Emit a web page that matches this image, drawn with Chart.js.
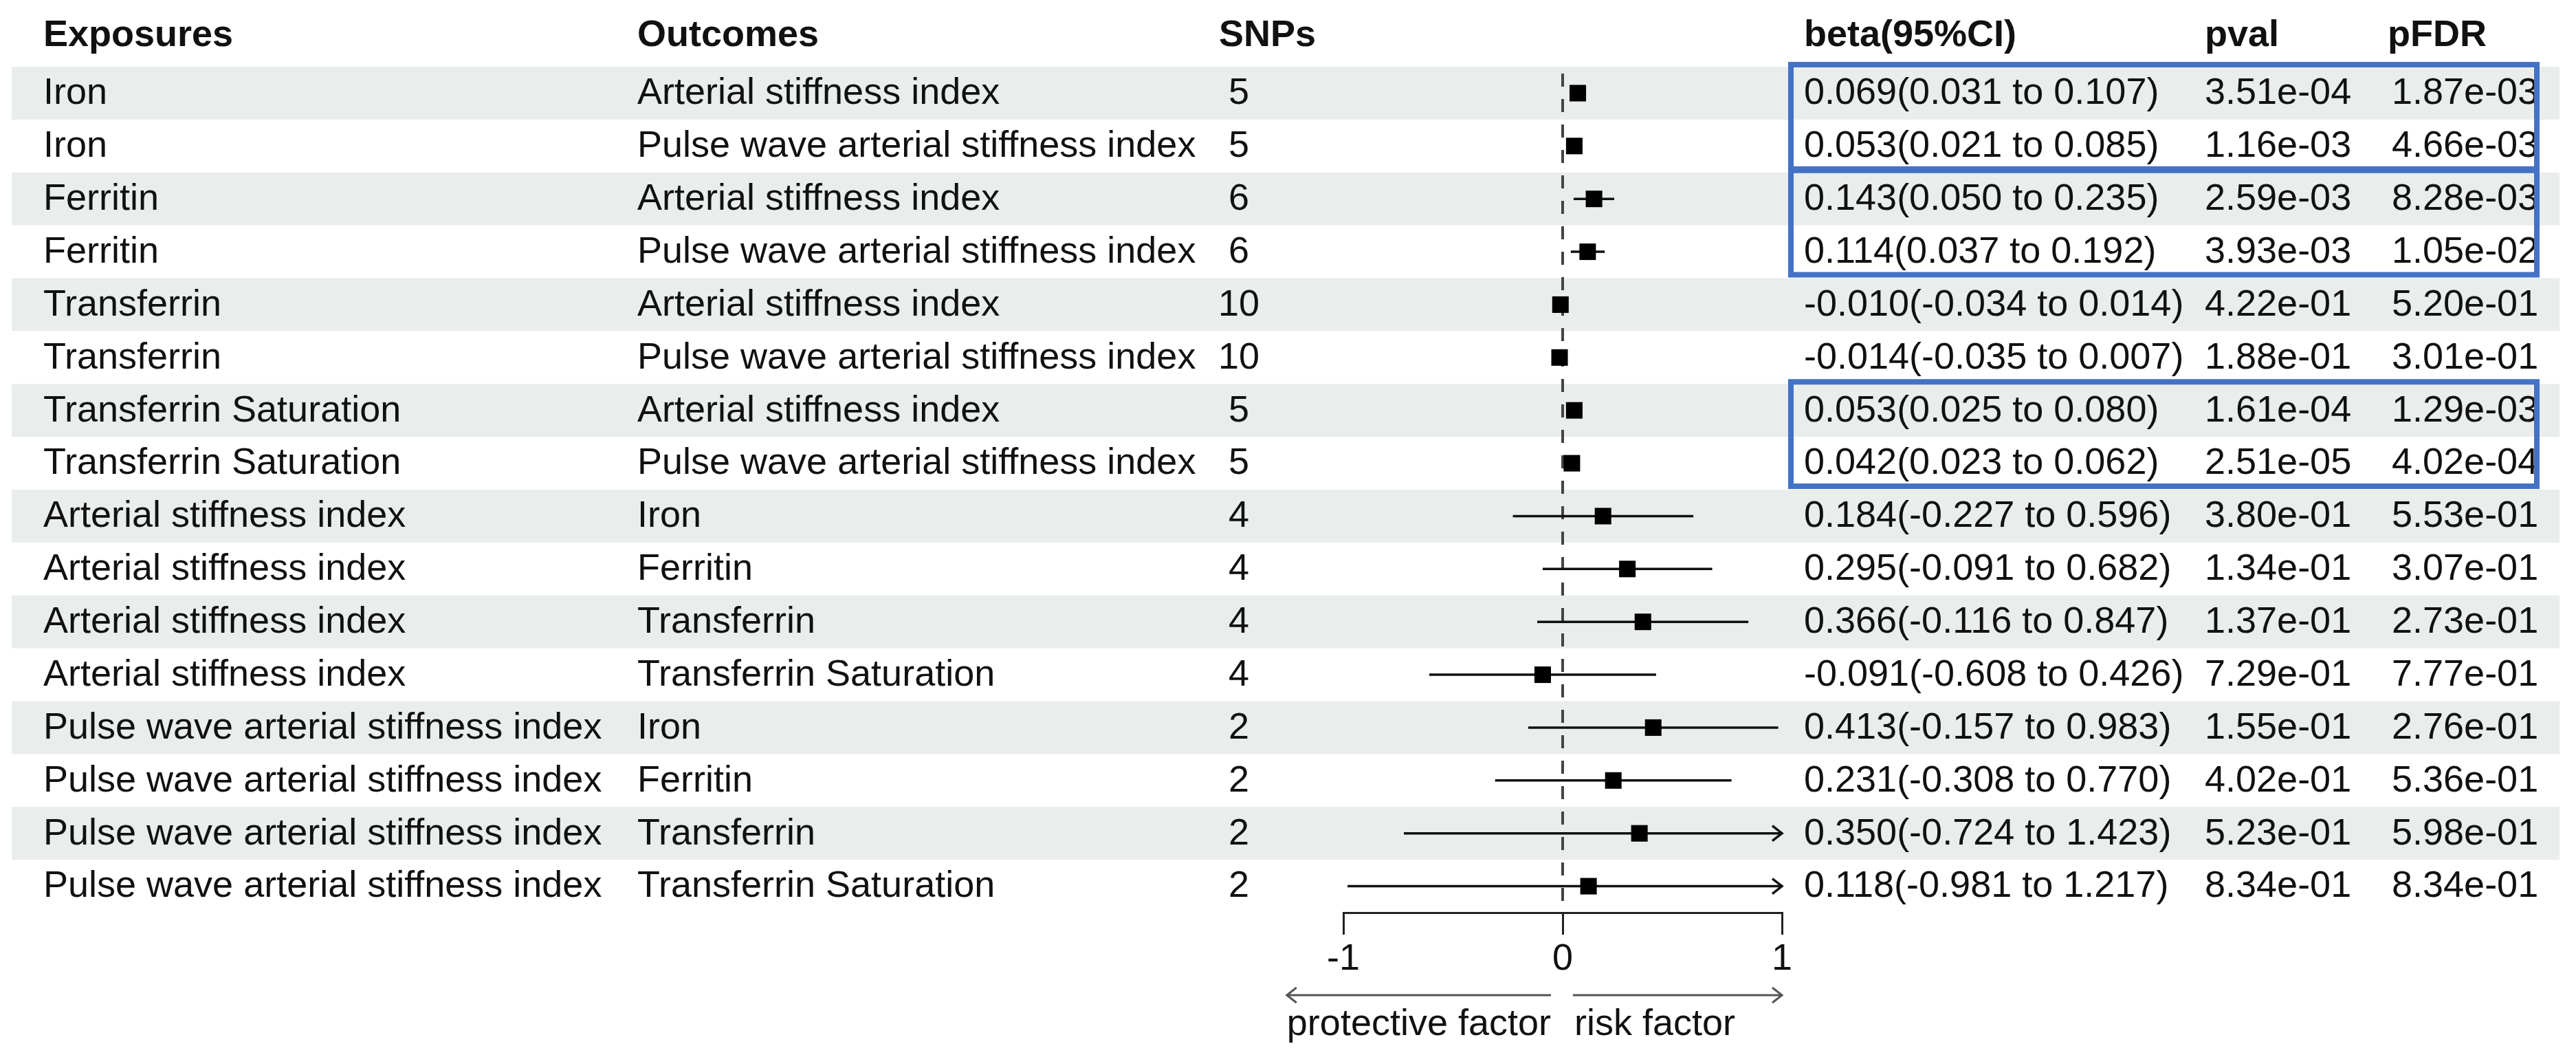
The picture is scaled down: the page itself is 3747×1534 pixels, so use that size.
<!DOCTYPE html>
<html>
<head>
<meta charset="utf-8">
<script src="https://cdn.jsdelivr.net/npm/chart.js@4/dist/chart.umd.min.js"></script>
<style>
  html, body { margin: 0; padding: 0; background: #fff; }
  #wrap { width: 3747px; height: 1534px; position: relative; }
</style>
</head>
<body>
<div id="wrap"><canvas id="forest"></canvas></div>
<script>
var exposures = ["Iron", "Iron", "Ferritin", "Ferritin", "Transferrin", "Transferrin",
  "Transferrin Saturation", "Transferrin Saturation",
  "Arterial stiffness index", "Arterial stiffness index", "Arterial stiffness index", "Arterial stiffness index",
  "Pulse wave arterial stiffness index", "Pulse wave arterial stiffness index",
  "Pulse wave arterial stiffness index", "Pulse wave arterial stiffness index"];
var outcomes = ["Arterial stiffness index", "Pulse wave arterial stiffness index",
  "Arterial stiffness index", "Pulse wave arterial stiffness index",
  "Arterial stiffness index", "Pulse wave arterial stiffness index",
  "Arterial stiffness index", "Pulse wave arterial stiffness index",
  "Iron", "Ferritin", "Transferrin", "Transferrin Saturation",
  "Iron", "Ferritin", "Transferrin", "Transferrin Saturation"];
var snps = [5, 5, 6, 6, 10, 10, 5, 5, 4, 4, 4, 4, 2, 2, 2, 2];
var beta = [0.069, 0.053, 0.143, 0.114, -0.010, -0.014, 0.053, 0.042,
  0.184, 0.295, 0.366, -0.091, 0.413, 0.231, 0.350, 0.118];
var lower = [0.031, 0.021, 0.050, 0.037, -0.034, -0.035, 0.025, 0.023,
  -0.227, -0.091, -0.116, -0.608, -0.157, -0.308, -0.724, -0.981];
var upper = [0.107, 0.085, 0.235, 0.192, 0.014, 0.007, 0.080, 0.062,
  0.596, 0.682, 0.847, 0.426, 0.983, 0.770, 1.423, 1.217];
var pval = ["3.51e-04", "1.16e-03", "2.59e-03", "3.93e-03", "4.22e-01", "1.88e-01", "1.61e-04", "2.51e-05",
  "3.80e-01", "1.34e-01", "1.37e-01", "7.29e-01", "1.55e-01", "4.02e-01", "5.23e-01", "8.34e-01"];
var pfdr = ["1.87e-03", "4.66e-03", "8.28e-03", "1.05e-02", "5.20e-01", "3.01e-01", "1.29e-03", "4.02e-04",
  "5.53e-01", "3.07e-01", "2.73e-01", "7.77e-01", "2.76e-01", "5.36e-01", "5.98e-01", "8.34e-01"];
var xTicks = [-1, 0, 1];
var boxedRows = [[1, 2], [3, 4], [7, 8]]; // rows with the blue frame

var FONT = '"Liberation Sans", Arial, sans-serif';

var points = beta.map(function (b, i) { return { x: b, y: i + 1 }; });

function betaText(i) {
  return beta[i].toFixed(3) + "(" + lower[i].toFixed(3) + " to " + upper[i].toFixed(3) + ")";
}

function chevron(ctx, x, y, dir) {
  ctx.beginPath();
  ctx.moveTo(x - dir * 14, y - 11);
  ctx.lineTo(x, y);
  ctx.lineTo(x - dir * 14, y + 11);
  ctx.stroke();
}

var tablePlugin = {
  id: 'forestTable',
  beforeDatasetsDraw: function (chart) {
    var ctx = chart.ctx, xs = chart.scales.x, ys = chart.scales.y, area = chart.chartArea;
    ctx.save();
    // zebra rows
    ctx.fillStyle = '#e9edeb';
    for (var i = 0; i < beta.length; i += 2) {
      var t = ys.getPixelForValue(i + 0.5), b = ys.getPixelForValue(i + 1.5);
      ctx.fillRect(17, t, 3723 - 17, b - t);
    }
    // reference line at 0
    var zx = xs.getPixelForValue(0);
    ctx.strokeStyle = '#444';
    ctx.lineWidth = 4;
    ctx.setLineDash([19, 18]);
    ctx.beginPath();
    ctx.moveTo(zx, area.top + 10);
    ctx.lineTo(zx, area.bottom - 12);
    ctx.stroke();
    ctx.setLineDash([]);
    // confidence intervals
    ctx.strokeStyle = '#111';
    ctx.lineWidth = 3.5;
    for (var k = 0; k < beta.length; k++) {
      var lo = Math.max(lower[k], xs.min), hi = Math.min(upper[k], xs.max);
      var py = ys.getPixelForValue(k + 1);
      var x1 = xs.getPixelForValue(lo), x2 = xs.getPixelForValue(hi);
      ctx.beginPath();
      ctx.moveTo(x1, py);
      ctx.lineTo(x2, py);
      ctx.stroke();
      if (upper[k] > xs.max) chevron(ctx, x2, py, 1);
      if (lower[k] < xs.min) chevron(ctx, x1, py, -1);
    }
    ctx.restore();
  },
  afterDraw: function (chart) {
    var ctx = chart.ctx, xs = chart.scales.x, ys = chart.scales.y, area = chart.chartArea;
    ctx.save();
    ctx.fillStyle = '#111';
    ctx.textBaseline = 'middle';
    // headers
    ctx.font = 'bold 54px ' + FONT;
    ctx.textAlign = 'left';
    var hy = 52;
    ctx.fillText('Exposures', 63, hy);
    ctx.fillText('Outcomes', 927, hy);
    ctx.fillText('SNPs', 1773, hy);
    ctx.fillText('beta(95%CI)', 2624, hy);
    ctx.fillText('pval', 3207, hy);
    ctx.fillText('pFDR', 3473, hy);
    // body
    ctx.font = '54px ' + FONT;
    for (var i = 0; i < beta.length; i++) {
      var py = ys.getPixelForValue(i + 1) + 1;
      ctx.textAlign = 'left';
      ctx.fillText(exposures[i], 63, py);
      ctx.fillText(outcomes[i], 927, py);
      ctx.fillText(betaText(i), 2624, py);
      ctx.fillText(pval[i], 3207, py);
      ctx.fillText(pfdr[i], 3479, py);
      ctx.textAlign = 'center';
      ctx.fillText(String(snps[i]), 1802, py);
    }
    // blue frames
    ctx.strokeStyle = '#4472c4';
    ctx.lineWidth = 8;
    boxedRows.forEach(function (r) {
      var t = ys.getPixelForValue(r[0] - 0.5) - 3;
      var b = ys.getPixelForValue(r[1] + 0.5) - 5;
      ctx.strokeRect(2605, t, 3690 - 2605, b - t);
    });
    // direction arrows under the axis
    var zx = xs.getPixelForValue(0);
    var ay = area.bottom + 120, ty = area.bottom + 163;
    var leftLabel = 'protective factor', rightLabel = 'risk factor';
    var lw = ctx.measureText(leftLabel).width;
    ctx.strokeStyle = '#555';
    ctx.lineWidth = 3;
    ctx.beginPath();
    ctx.moveTo(zx - 17, ay);
    ctx.lineTo(zx - 17 - lw, ay);
    ctx.stroke();
    chevron(ctx, zx - 17 - lw, ay, -1);
    var rEnd = xs.getPixelForValue(1);
    ctx.beginPath();
    ctx.moveTo(zx + 15, ay);
    ctx.lineTo(rEnd, ay);
    ctx.stroke();
    chevron(ctx, rEnd, ay, 1);
    ctx.fillStyle = '#111';
    ctx.textAlign = 'right';
    ctx.fillText(leftLabel, zx - 17, ty);
    ctx.textAlign = 'left';
    ctx.fillText(rightLabel, zx + 17, ty);
    ctx.restore();
  }
};

var ctx = document.getElementById('forest').getContext('2d');

var forest = new Chart(ctx, {
  type: 'scatter',
  data: {
    datasets: [{
      label: 'beta',
      data: points,
      pointStyle: 'rect',
      pointRadius: 17,
      pointHoverRadius: 17,
      backgroundColor: '#000',
      borderWidth: 0,
      clip: false
    }]
  },
  options: {
    responsive: true,
    maintainAspectRatio: false,
    devicePixelRatio: 1,
    animation: false,
    layout: { padding: { left: 1954, right: 1155, top: 97, bottom: 87 } },
    plugins: { legend: { display: false }, tooltip: { enabled: false } },
    scales: {
      x: {
        type: 'linear',
        min: -1,
        max: 1,
        afterBuildTicks: function (s) { s.ticks = xTicks.map(function (v) { return { value: v }; }); },
        afterFit: function (s) { s.height = 120; },
        grid: { drawOnChartArea: false, drawTicks: true, tickLength: 32, color: '#222', lineWidth: 3 },
        border: { display: true, color: '#222', width: 3 },
        ticks: { color: '#111', font: { family: FONT, size: 54 }, padding: 4, maxRotation: 0 }
      },
      y: { type: 'linear', min: 0.5, max: 16.5, reverse: true, display: false }
    }
  },
  plugins: [tablePlugin]
});
</script>
</body>
</html>
